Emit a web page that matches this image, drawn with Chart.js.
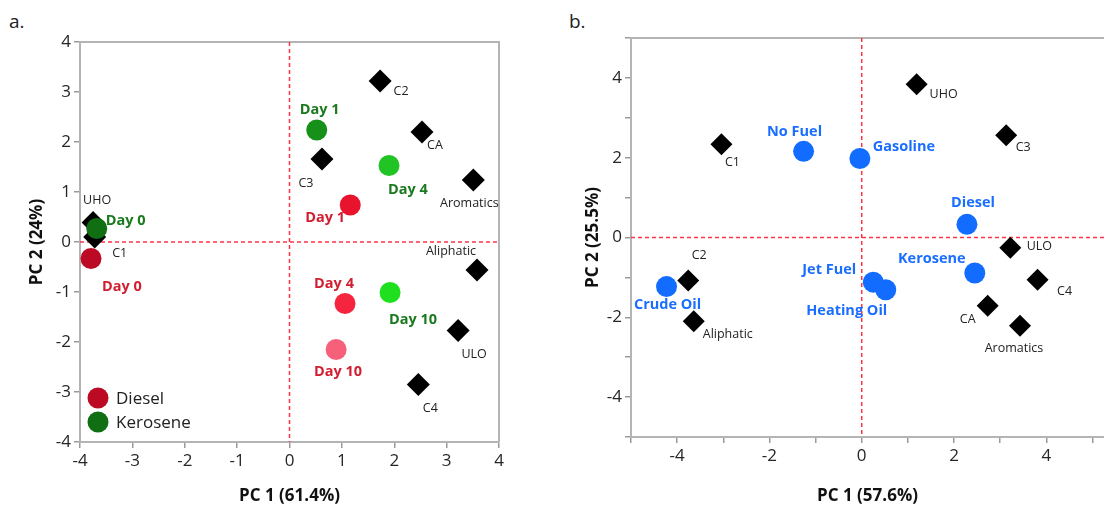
<!DOCTYPE html>
<html>
<head>
<meta charset="utf-8">
<script src="https://cdn.jsdelivr.net/npm/chart.js@4"></script>
<style>
  body { margin: 0; background: #fff; width: 1104px; height: 506px; overflow: hidden; position: relative; font-family: 'Open Sans', sans-serif; }
  .panel { position: absolute; top: 0; height: 506px; }
  #wrapA { left: 0; width: 540px; }
  #wrapB { left: 552px; width: 563px; }
  .tag { position: absolute; top: 8px; font-size: 19px; color: #222; }
</style>
</head>
<body>
<div class="tag" style="left:9px">a.</div>
<div class="tag" style="left:569px">b.</div>
<div class="panel" id="wrapA"><canvas id="chartA" width="540" height="506"></canvas></div>
<div class="panel" id="wrapB"><canvas id="chartB" width="563" height="506"></canvas></div>
<script>
// ---- painel a: loadings (diamantes) ----
const loadNamesA = ['C1', 'C2', 'C3', 'C4', 'CA', 'UHO', 'ULO', 'Aliphatic', 'Aromatics'];
const loadXA = [-3.72, 1.73, 0.62, 2.46, 2.53, -3.75, 3.22, 3.58, 3.51];
const loadYA = [0.10, 3.22, 1.66, -2.85, 2.20, 0.39, -1.77, -0.56, 1.24];

// ---- painel a: amostras por dia ----
const dayNames = ['Day 0', 'Day 1', 'Day 4', 'Day 10'];
const dieselX = [-3.79, 1.16, 1.06, 0.89];
const dieselY = [-0.33, 0.74, -1.23, -2.15];
const keroseneX = [-3.68, 0.52, 1.90, 1.92];
const keroseneY = [0.27, 2.24, 1.53, -1.01];

// ---- painel b: combustiveis ----
const fuelNames = ['No Fuel', 'Gasoline', 'Diesel', 'Kerosene', 'Jet Fuel', 'Heating Oil', 'Crude Oil'];
const fuelX = [-1.26, -0.04, 2.28, 2.45, 0.25, 0.52, -4.23];
const fuelY = [2.16, 1.98, 0.33, -0.89, -1.12, -1.31, -1.23];

// ---- painel b: loadings ----
const loadNamesB = ['C1', 'C2', 'C3', 'C4', 'CA', 'UHO', 'ULO', 'Aliphatic', 'Aromatics'];
const loadXB = [-3.04, -3.76, 3.13, 3.81, 2.73, 1.19, 3.22, -3.64, 3.43];
const loadYB = [2.34, -1.08, 2.56, -1.06, -1.71, 3.84, -0.26, -2.10, -2.21];

// tick labels
const ticksA = [-4, -3, -2, -1, 0, 1, 2, 3, 4];
const ticksB = [-4, -2, 0, 2, 4];
const tickMarksB = [-5, -4, -3, -2, -1, 0, 1, 2, 3, 4, 5];

// deslocamento dos rotulos (layout, px)
const offLoadA = [[25, 16], [21, 10], [-16, 24], [12, 24], [13, 13], [4, -22], [16, 24], [-26, -19], [-4, 23]];
const offDiesel = [[31, 28], [-25, 13], [-11, -20], [2, 22]];
const offKerosene = [[29, -8], [3, -20], [19, 24], [23, 27]];
const offFuel = [[-9, -19], [44, -12], [6, -21], [-43, -14], [-44, -12], [-39, 21], [1, 18]];
const offLoadB = [[11, 18], [11, -25], [17, 12], [27, 12], [-20, 14], [27, 10], [29, -1], [34, 13], [-6, 23]];

const FONT = "'Open Sans', sans-serif";
const pts = (xs, ys) => xs.map((x, i) => ({ x: x, y: ys[i] }));

// linhas tracejadas, moldura e rotulos
const pcaPlugin = {
    id: 'pca',
    beforeDatasetsDraw(chart) {
        const { ctx, chartArea: a, scales } = chart;
        const o = chart.options.plugins.pca;
        ctx.save();
        ctx.strokeStyle = '#b4b4b4';
        ctx.lineWidth = 2;
        ctx.beginPath();
        ctx.moveTo(a.left, a.top); ctx.lineTo(a.right, a.top);
        if (o.rightBorder) { ctx.lineTo(a.right, a.bottom); }
        ctx.stroke();
        ctx.strokeStyle = '#ff3347';
        ctx.lineWidth = 1.5;
        ctx.setLineDash([4, 3]);
        const x0 = scales.x.getPixelForValue(0);
        const y0 = scales.y.getPixelForValue(0);
        ctx.beginPath();
        ctx.moveTo(x0, a.top); ctx.lineTo(x0, a.bottom);
        ctx.moveTo(a.left, y0); ctx.lineTo(a.right, y0);
        ctx.stroke();
        ctx.restore();
    },
    afterDatasetsDraw(chart) {
        const { ctx } = chart;
        ctx.save();
        ctx.textAlign = 'center';
        ctx.textBaseline = 'middle';
        chart.data.datasets.forEach((ds, di) => {
            if (!ds.labels) return;
            const meta = chart.getDatasetMeta(di);
            ctx.font = ds.labelFont;
            ctx.fillStyle = ds.labelColor;
            meta.data.forEach((el, i) => {
                ctx.fillText(ds.labels[i], el.x + ds.labelOffsets[i][0], el.y + ds.labelOffsets[i][1]);
            });
        });
        const lg = chart.options.plugins.pca.legend;
        if (lg) {
            lg.forEach((item) => {
                const cx = chart.chartArea.left + 18;
                const cy = chart.chartArea.top + item.dy;
                ctx.beginPath();
                ctx.arc(cx, cy, 10.5, 0, Math.PI * 2);
                ctx.fillStyle = item.color;
                ctx.fill();
                ctx.fillStyle = '#222';
                ctx.font = '17px ' + FONT;
                ctx.textAlign = 'left';
                ctx.fillText(item.text, cx + 18, cy + 1);
            });
        }
        ctx.restore();
    }
};

function axis(min, max, title, tickList, size, isX) {
    return {
        type: 'linear',
        min: min,
        max: max,
        afterFit: (s) => {
            if (isX) { s.height = size; s.paddingLeft = 0; s.paddingRight = 0; }
            else { s.width = size; }
        },
        afterBuildTicks: (s) => { s.ticks = tickList.map(v => ({ value: v })); },
        border: { display: true, color: '#b4b4b4', width: 2 },
        grid: { drawOnChartArea: false, drawTicks: true, tickLength: 6, color: '#9a9a9a', lineWidth: 1.5 },
        ticks: { color: '#262626', padding: 3, font: { family: FONT, size: 17 } },
        title: { display: true, text: title, color: '#111', padding: 0, font: { family: FONT, size: 17, weight: 'bold' } }
    };
}

// painel a
new Chart(document.getElementById('chartA').getContext('2d'), {
    type: 'scatter',
    data: {
        datasets: [
            {
                data: pts(keroseneX, keroseneY),
                pointStyle: 'circle', pointRadius: 10.5,
                pointBackgroundColor: ['#0f6f12', '#17901a', '#21c424', '#1fe01f'],
                pointBorderWidth: 0,
                labels: dayNames, labelOffsets: offKerosene,
                labelColor: '#1b7a1f', labelFont: 'bold 14.5px ' + FONT
            },
            {
                data: pts(dieselX, dieselY),
                pointStyle: 'circle', pointRadius: 10.5,
                pointBackgroundColor: ['#bd0a24', '#e8142e', '#f6253f', '#f7607a'],
                pointBorderWidth: 0,
                labels: dayNames, labelOffsets: offDiesel,
                labelColor: '#d11f31', labelFont: 'bold 14.5px ' + FONT
            },
            {
                data: pts(loadXA, loadYA),
                pointStyle: 'rectRot', pointRadius: 11.5,
                pointBackgroundColor: '#000', pointBorderWidth: 0,
                labels: loadNamesA, labelOffsets: offLoadA,
                labelColor: '#222', labelFont: '12.5px ' + FONT
            }
        ]
    },
    options: {
        responsive: false,
        animation: false,
        events: [],
        layout: { padding: { left: 27, top: 42, right: 41, bottom: 0 } },
        plugins: {
            legend: { display: false },
            tooltip: { enabled: false },
            pca: {
                rightBorder: true,
                legend: [
                    { text: 'Diesel', color: '#bd0a24', dy: 356 },
                    { text: 'Kerosene', color: '#0f6f12', dy: 380 }
                ]
            }
        },
        scales: {
            x: axis(-4, 4, 'PC 1 (61.4%)', ticksA, 64, true),
            y: axis(-4, 4, 'PC 2 (24%)', ticksA, 53, false)
        }
    },
    plugins: [pcaPlugin]
});

// painel b
const axBx = axis(-5, 5.25, 'PC 1 (57.6%)', tickMarksB, 69, true);
const axBy = axis(-5, 5, 'PC 2 (25.5%)', tickMarksB, 48, false);
axBx.ticks.callback = (v) => ticksB.includes(v) ? String(v) : '';
axBy.ticks.callback = (v) => ticksB.includes(v) ? String(v) : '';

new Chart(document.getElementById('chartB').getContext('2d'), {
    type: 'scatter',
    data: {
        datasets: [
            {
                data: pts(fuelX, fuelY),
                pointStyle: 'circle', pointRadius: 10.5,
                pointBackgroundColor: '#126cff', pointBorderWidth: 0,
                labels: fuelNames, labelOffsets: offFuel,
                labelColor: '#1a6eff', labelFont: 'bold 14.5px ' + FONT
            },
            {
                data: pts(loadXB, loadYB),
                pointStyle: 'rectRot', pointRadius: 11,
                pointBackgroundColor: '#000', pointBorderWidth: 0,
                labels: loadNamesB, labelOffsets: offLoadB,
                labelColor: '#222', labelFont: '12.5px ' + FONT
            }
        ]
    },
    options: {
        responsive: false,
        animation: false,
        events: [],
        layout: { padding: { left: 31, top: 38, right: 0, bottom: 0 } },
        plugins: {
            legend: { display: false },
            tooltip: { enabled: false },
            pca: { rightBorder: false }
        },
        scales: { x: axBx, y: axBy }
    },
    plugins: [pcaPlugin]
});
</script>
</body>
</html>
